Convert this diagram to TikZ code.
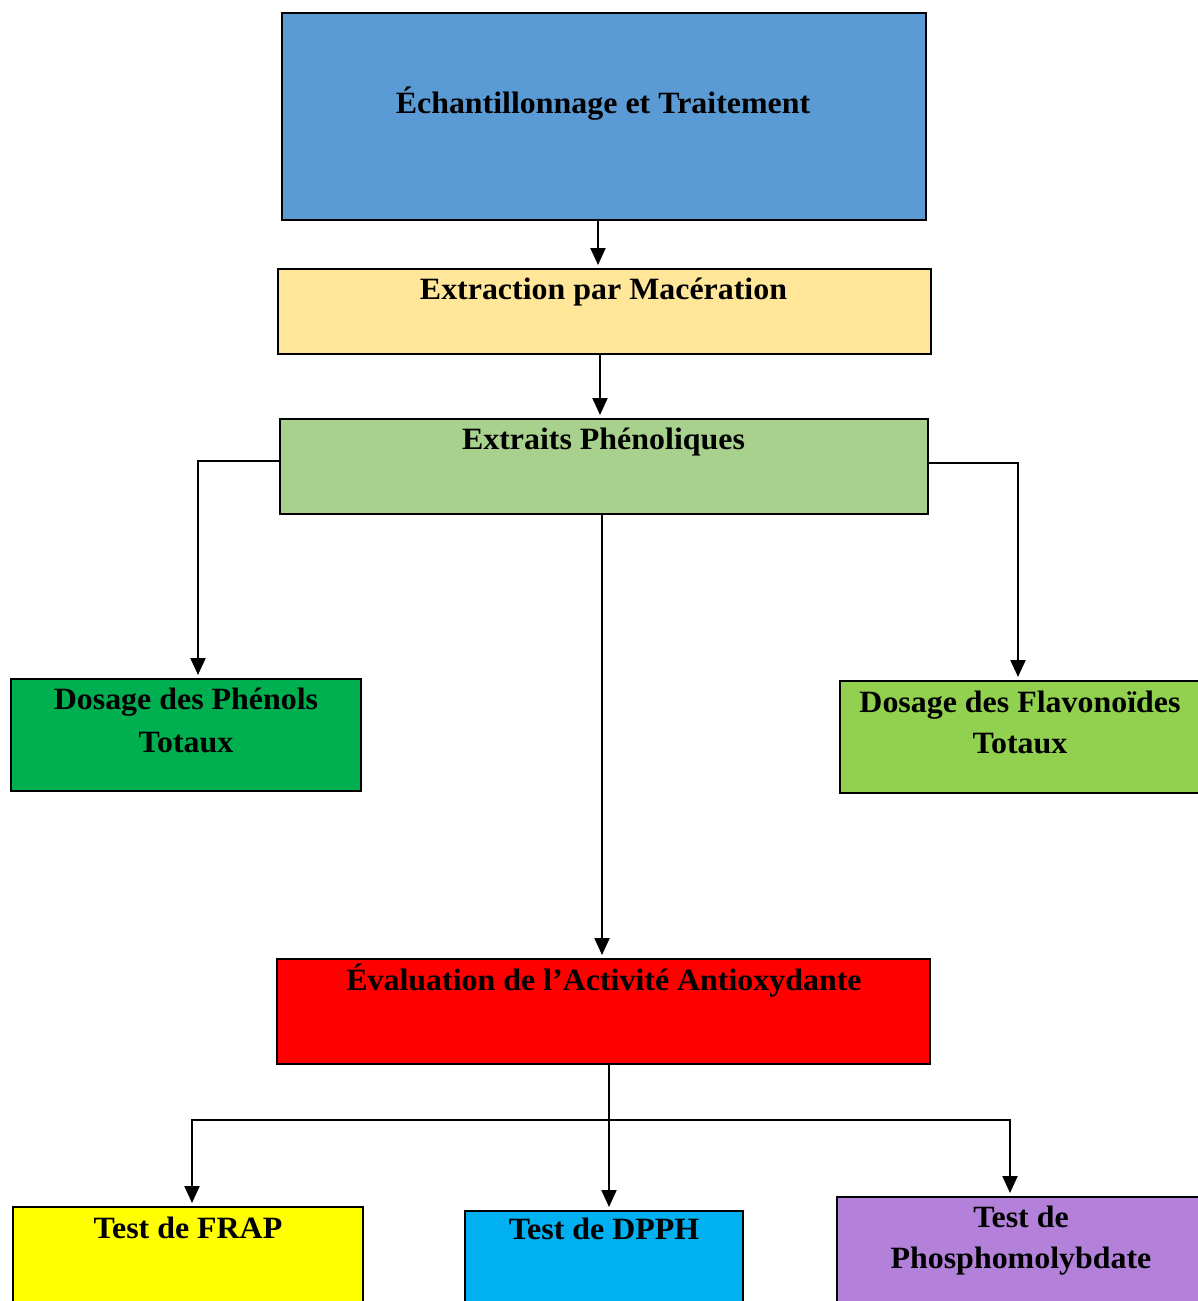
\documentclass[tikz,border=0pt]{standalone}
\usepackage{fontspec}
\setmainfont[FakeStretch=1.03]{Liberation Serif}
\usetikzlibrary{arrows.meta,fit}
\definecolor{cblue}{HTML}{5B9BD5}
\definecolor{cyel}{HTML}{FFE699}
\definecolor{cgreen}{HTML}{A9D18E}
\definecolor{cdgreen}{HTML}{00B050}
\definecolor{clgreen}{HTML}{92D050}
\definecolor{cred}{HTML}{FF0000}
\definecolor{cyellow}{HTML}{FFFF00}
\definecolor{ccyan}{HTML}{00B0F0}
\definecolor{cpurple}{HTML}{B381D9}
\tikzset{
  boxst/.style={draw=black, line width=1pt, inner sep=0pt, outer sep=0pt},
  lbl/.style={anchor=base, inner sep=0pt, font=\fontsize{15.5}{21.5}\selectfont\bfseries},
  arr/.style={line width=1.1pt, -{Triangle[width=7.5pt,length=8.5pt]}, shorten >=2pt},
  ln/.style={line width=1.1pt}
}
\begin{document}
\begin{tikzpicture}[x=0.5pt,y=-0.5pt]
\useasboundingbox (0,0) rectangle (1198,1301);
\clip (0,0) rectangle (1198,1301);
% boxes
\node[boxst, fill=cblue, fit={(282,13) (926,220)}] (ech) {};
\node[boxst, fill=cyel, fit={(278,269) (931,354)}] (ext) {};
\node[boxst, fill=cgreen, fit={(280,419) (928,514)}] (phe) {};
\node[boxst, fill=cdgreen, fit={(11,679) (361,791)}] (dpt) {};
\node[boxst, fill=clgreen, fit={(840,681) (1210,793)}] (dft) {};
\node[boxst, fill=cred, fit={(277,959) (930,1064)}] (eva) {};
\node[boxst, fill=cyellow, fit={(13,1207) (363,1320)}] (frap) {};
\node[boxst, fill=ccyan, fit={(465,1211) (743,1320)}] (dpph) {};
\node[boxst, fill=cpurple, fit={(837,1197) (1210,1320)}] (phos) {};
% texts
\node[lbl] (t1) at (603,113) {Échantillonnage et Traitement};
\node[lbl] (t2) at (603.5,299) {Extraction par Macération};
\node[lbl] (t3) at (603.5,449) {Extraits Phénoliques};
\node[lbl] (t4a) at (186,709) {Dosage des Phénols};
\node[lbl] (t4b) at (186,752) {Totaux};
\node[lbl] (t5a) at (1020,712) {Dosage des Flavonoïdes};
\node[lbl] (t5b) at (1020,753) {Totaux};
\node[lbl] (t6) at (604,990) {Évaluation de l’Activité Antioxydante};
\node[lbl] (t7) at (188,1238) {Test de FRAP};
\node[lbl] (t8) at (604,1239) {Test de DPPH};
\node[lbl] (t9a) at (1021,1227) {Test de};
\node[lbl] (t9b) at (1021,1268) {Phosphomolybdate};
% connectors
\draw[arr] ([xshift=-3pt]ech.south) -- ([xshift=-3pt]ech.south |- ext.north);
\draw[arr] ([xshift=-2.25pt]ext.south) -- ([xshift=-2.25pt]ext.south |- phe.north);
\draw[arr] ([yshift=-21pt]phe.north west) -| (dpt.north -| 198,0);
\draw[arr] ([yshift=-22pt]phe.north east) -| (dft.north -| 1018,0);
\draw[arr] ([xshift=-1pt]phe.south) -- ([xshift=-1pt]phe.south |- eva.north);
\coordinate (hj) at (609,1120);
\draw[ln] ([xshift=2.75pt]eva.south) -- (hj);
\draw[arr] (hj) -- (hj |- dpph.north);
\draw[arr] (hj) -| (frap.north -| 192,0);
\draw[arr] (hj) -| (phos.north -| 1010,0);
\end{tikzpicture}
\end{document}
